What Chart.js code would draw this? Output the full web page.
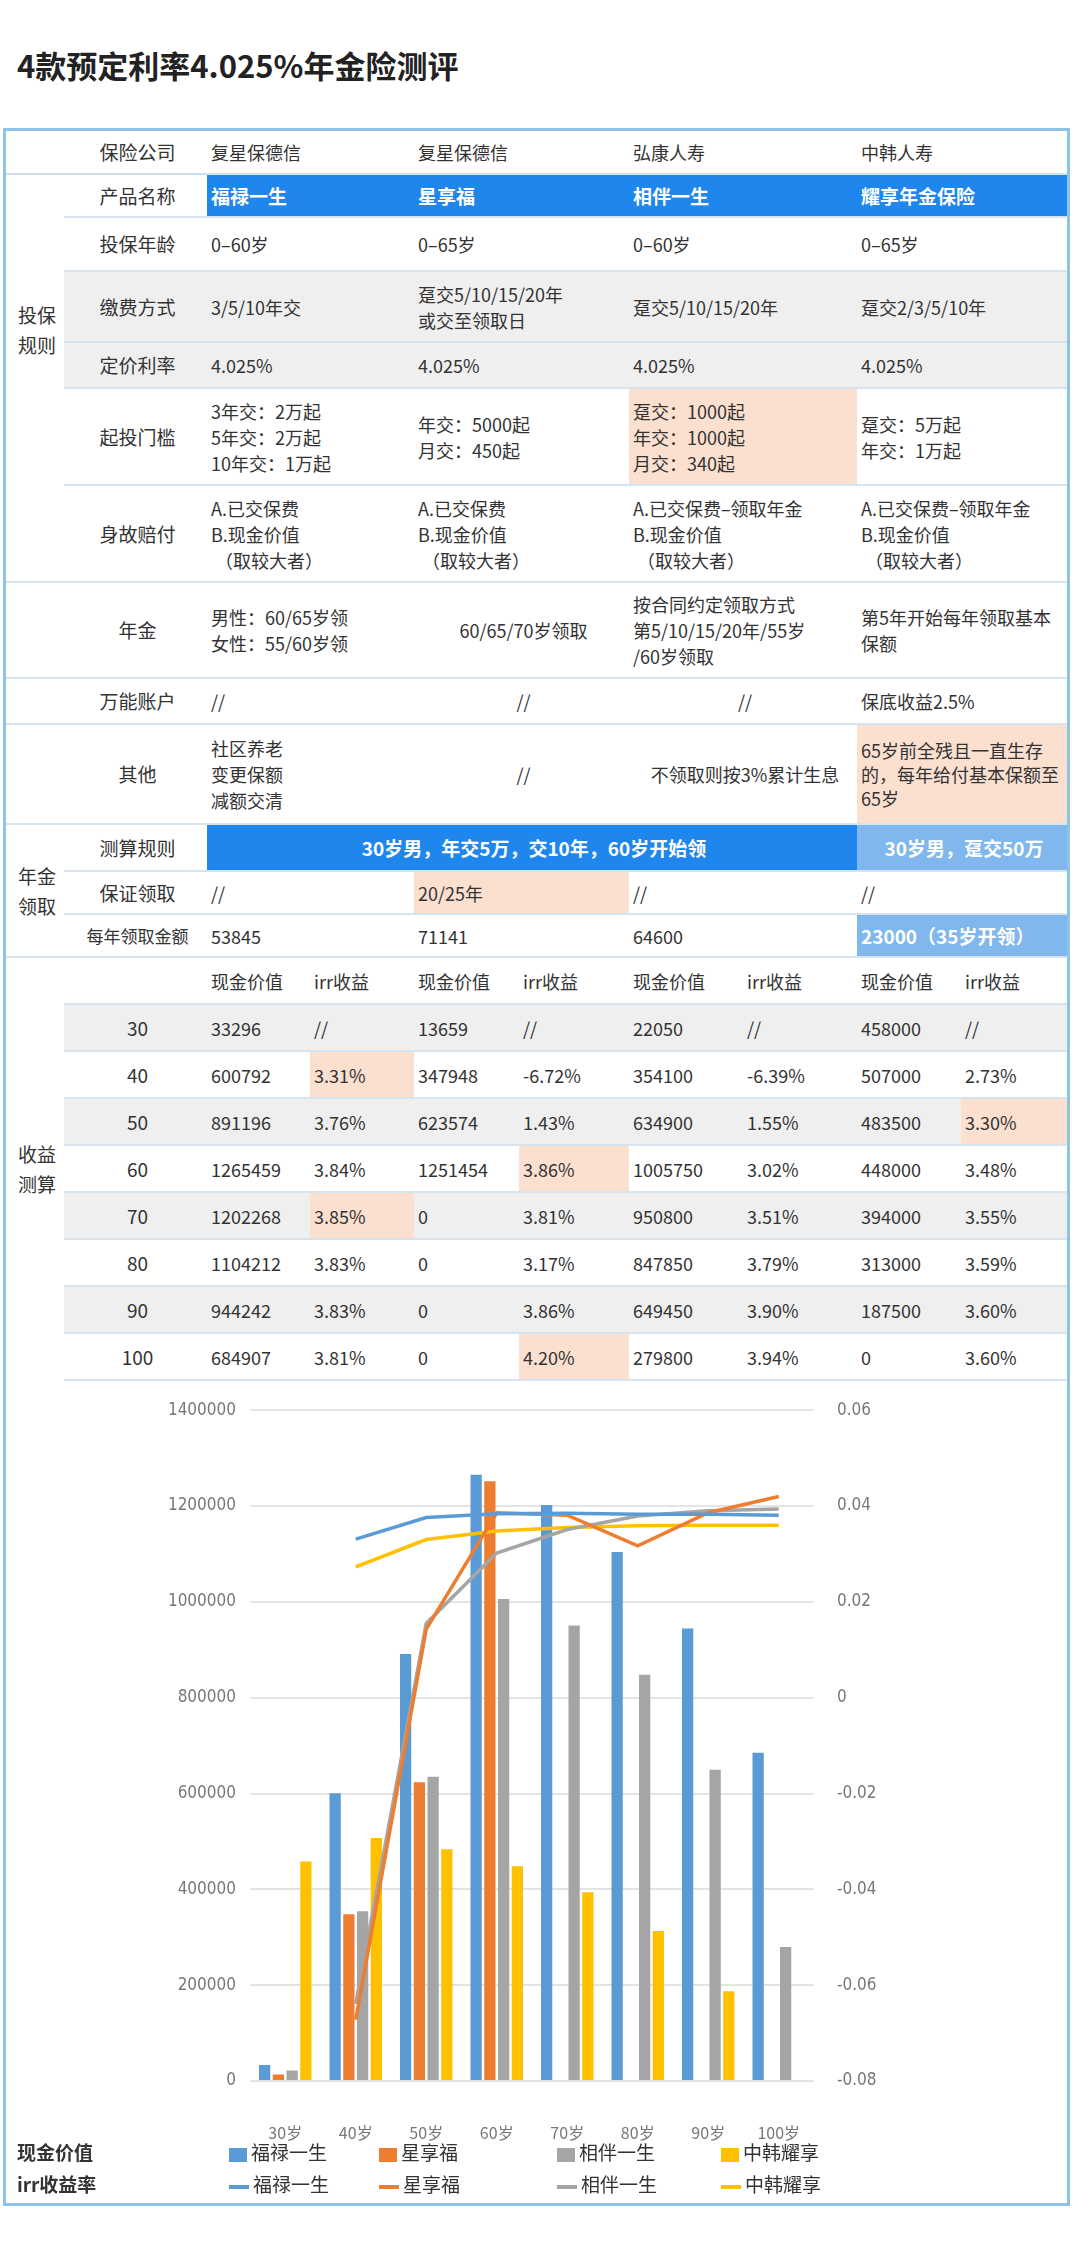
<!DOCTYPE html>
<html><head><meta charset="utf-8">
<script src="https://cdn.jsdelivr.net/npm/chart.js@4.4.0/dist/chart.umd.min.js"></script>
<style>
body{margin:0;width:1080px;height:2246px;background:#fff;font-family:"Noto Sans CJK SC","Noto Sans",sans-serif;color:#333;position:relative;overflow:hidden}
#title{position:absolute;left:17px;top:42px;font-size:31px;font-weight:bold;color:#222}
#frame{position:absolute;left:3px;top:128px;width:1067px;height:2078px;border:3px solid #8ec3e6;box-sizing:border-box}
table{position:absolute;left:6px;top:131px;width:1061px;border-collapse:collapse;font-size:18px;table-layout:fixed}
td{padding:0 0 0 4px;vertical-align:middle;line-height:26px;border-bottom:2px solid #d6e4ef}
td.lab{text-align:center;font-size:19px}
td.grp{border-bottom:none;text-align:center;font-size:19px;line-height:30px}
tr.g td:not(.grp){background:#efefef}
.blue{background:#1f86ee !important;color:#fff;font-weight:bold;font-size:19px}
.lblue{background:#80b7ec !important;color:#fff;font-weight:bold;font-size:19px}
.pk{background:#fbe0d0 !important}
.c{text-align:center}
#wrap{position:absolute;left:0;top:1385px;width:1080px;height:780px}
.leg{position:absolute;font-size:19px;color:#333}
.sw{display:inline-block;vertical-align:middle;margin-right:4px}
</style></head><body>
<div id="title">4款预定利率4.025%年金险测评</div>
<div id="frame"></div>
<table id="tb">
<colgroup><col style="width:58px"><col style="width:143px"><col style="width:103px"><col style="width:104px"><col style="width:105px"><col style="width:110px"><col style="width:114px"><col style="width:114px"><col style="width:104px"><col style="width:106px"></colgroup>
</table>
<div id="wrap"><canvas id="cv"></canvas></div>
<div id="legend"></div>
<script>
const ages = ['30岁', '40岁', '50岁', '60岁', '70岁', '80岁', '90岁', '100岁'];
const products = ['福禄一生', '星享福', '相伴一生', '中韩耀享'];
const colors = ['#5b9bd5', '#ed7d31', '#a5a5a5', '#ffc000'];
const cashFulu = [33296, 600792, 891196, 1265459, 1202268, 1104212, 944242, 684907];
const cashXing = [13659, 347948, 623574, 1251454, 0, 0, 0, 0];
const cashXiang = [22050, 354100, 634900, 1005750, 950800, 847850, 649450, 279800];
const cashZh = [458000, 507000, 483500, 448000, 394000, 313000, 187500, 0];
const irrFulu = [null, 0.0331, 0.0376, 0.0384, 0.0385, 0.0383, 0.0383, 0.0381];
const irrXing = [null, -0.0672, 0.0143, 0.0386, 0.0381, 0.0317, 0.0386, 0.0420];
const irrXiang = [null, -0.0639, 0.0155, 0.0302, 0.0351, 0.0379, 0.0390, 0.0394];
const irrZh = [null, 0.0273, 0.0330, 0.0348, 0.0355, 0.0359, 0.0360, 0.0360];
const cash = [cashFulu, cashXing, cashXiang, cashZh];
const irr = [irrFulu, irrXing, irrXiang, irrZh];

// table
const tb = document.getElementById('tb');
function row(h, cls, html) { const tr = document.createElement('tr'); tr.style.height = h + 'px'; if (cls) tr.className = cls; tr.innerHTML = html; tb.appendChild(tr); }
const d = (t, extra) => `<td colspan="2" ${extra || ''}>${t}</td>`;
const lab = t => `<td class="lab">${t}</td>`;
row(43, '', `<td style="border-bottom-color:#c7dcec"></td><td class="lab" style="border-bottom-color:#c7dcec">保险公司</td>${d('复星保德信')}${d('复星保德信')}${d('弘康人寿')}${d('中韩人寿')}`);
row(43, '', `<td class="grp" rowspan="5">投保<br>规则</td>${lab('产品名称')}${d('福禄一生', 'class="blue"')}${d('星享福', 'class="blue"')}${d('相伴一生', 'class="blue"')}${d('耀享年金保险', 'class="blue"')}`);
row(54, '', `${lab('投保年龄')}${d('0–60岁')}${d('0–65岁')}${d('0–60岁')}${d('0–65岁')}`);
row(71, 'g', `${lab('缴费方式')}${d('3/5/10年交')}${d('趸交5/10/15/20年<br>或交至领取日')}${d('趸交5/10/15/20年')}${d('趸交2/3/5/10年')}`);
row(46, 'g', `${lab('定价利率')}${d('4.025%')}${d('4.025%')}${d('4.025%')}${d('4.025%')}`);
row(97, '', `${lab('起投门槛')}${d('3年交：2万起<br>5年交：2万起<br>10年交：1万起')}${d('年交：5000起<br>月交：450起')}${d('趸交：1000起<br>年交：1000起<br>月交：340起', 'class="pk"')}${d('趸交：5万起<br>年交：1万起')}`);
row(97, '', `<td></td>${lab('身故赔付')}${d('A.已交保费<br>B.现金价值<br>&nbsp;（取较大者）')}${d('A.已交保费<br>B.现金价值<br>&nbsp;（取较大者）')}${d('A.已交保费–领取年金<br>B.现金价值<br>&nbsp;（取较大者）')}${d('A.已交保费–领取年金<br>B.现金价值<br>&nbsp;（取较大者）')}`);
row(96, '', `<td></td>${lab('年金')}${d('男性：60/65岁领<br>女性：55/60岁领')}${d('60/65/70岁领取', 'class="c"')}${d('按合同约定领取方式<br>第5/10/15/20年/55岁<br>/60岁领取')}${d('第5年开始每年领取基本<br>保额')}`);
row(46, '', `<td></td>${lab('万能账户')}${d('//')}${d('//', 'class="c"')}${d('//', 'class="c"')}${d('保底收益2.5%')}`);
row(100, '', `<td></td>${lab('其他')}${d('社区养老<br>变更保额<br>减额交清')}${d('//', 'class="c"')}${d('不领取则按3%累计生息', 'class="c"')}${d('65岁前全残且一直生存的，每年给付基本保额至65岁', 'class="pk" style="line-height:24px"')}`);
row(47, '', `<td class="grp" rowspan="3" style="border-top:2px solid #d6e4ef">年金<br>领取</td>${lab('测算规则')}<td colspan="6" class="blue c">30岁男，年交5万，交10年，60岁开始领</td>${d('30岁男，趸交50万', 'class="lblue c"')}`);
row(43, '', `${lab('保证领取')}${d('//')}${d('20/25年', 'class="pk"')}${d('//')}${d('//')}`);
row(43, '', `<td class="lab" style="font-size:17px">每年领取金额</td>${d('53845')}${d('71141')}${d('64600')}${d('23000（35岁开领）', 'class="lblue"')}`);
let h = `<td class="grp" rowspan="9" style="border-top:2px solid #d6e4ef">收益<br>测算</td><td></td>`;
for (let i = 0; i < 4; i++) h += `<td>现金价值</td><td>irr收益</td>`;
row(47, '', h);
const pk = {'1_0': 1, '2_3': 1, '3_1': 1, '4_0': 1, '7_1': 1};
const fmt = v => v === null ? '//' : (v * 100).toFixed(2) + '%';
ages.forEach((a, r) => {
  let s = `<td class="lab">${a.replace('岁', '')}</td>`;
  for (let p = 0; p < 4; p++) s += `<td>${cash[p][r]}</td><td ${pk[r + '_' + p] ? 'class="pk"' : ''}>${fmt(irr[p][r])}</td>`;
  row(47, r % 2 === 0 ? 'g' : '', s);
});

// chart
const datasets = [];
products.forEach((p, i) => datasets.push({type: 'line', label: p, data: irr[i], yAxisID: 'y1', borderColor: colors[i], backgroundColor: colors[i], borderWidth: 3.5, pointRadius: 0, tension: 0, order: 0}));
products.forEach((p, i) => datasets.push({type: 'bar', label: p, data: cash[i], yAxisID: 'y', backgroundColor: colors[i], barPercentage: 0.82, categoryPercentage: 0.78, order: 1}));
const tickFont = {family: 'Liberation Sans Narrow, DejaVu Sans Condensed, sans-serif', size: 17};
new Chart(document.getElementById('cv'), {
  data: {labels: ages, datasets},
  options: {
    responsive: true, maintainAspectRatio: false, animation: false,
    layout: {padding: {top: 22}},
    plugins: {legend: {display: false}, tooltip: {enabled: false}},
    scales: {
      x: {grid: {display: false}, border: {display: false},
        ticks: {color: '#777', font: {family: 'Noto Sans CJK SC', size: 16}, padding: 34, maxRotation: 0, minRotation: 0, autoSkip: false},
        afterFit: s => { s.height = 84; }},
      y: {position: 'left', min: 0, max: 1400000, ticks: {stepSize: 200000, color: '#777', font: tickFont, padding: 14,
          callback: v => String(v)},
        grid: {color: '#e4e4e4', lineWidth: 2, drawTicks: false}, border: {display: false},
        afterFit: s => { s.width = 250; }},
      y1: {position: 'right', min: -0.08, max: 0.06, ticks: {stepSize: 0.02, color: '#777', font: tickFont, padding: 15,
          callback: v => String(+v.toFixed(2))},
        grid: {display: false}, border: {display: false},
        afterFit: s => { s.width = 266; }}
    }
  }
});

// legend
const lg = document.getElementById('legend');
const xs = [229, 379, 557, 721];
let lh = `<div class="leg" style="left:17px;top:2138px;font-weight:bold">现金价值</div><div class="leg" style="left:17px;top:2170px;font-weight:bold">irr收益率</div>`;
products.forEach((p, i) => {
  lh += `<div class="leg" style="left:${xs[i]}px;top:2138px"><span class="sw" style="width:18px;height:14px;background:${colors[i]}"></span>${p}</div>`;
  lh += `<div class="leg" style="left:${xs[i]}px;top:2170px"><span class="sw" style="width:20px;height:4px;background:${colors[i]}"></span>${p}</div>`;
});
lg.innerHTML = lh;
</script>
</body></html>
